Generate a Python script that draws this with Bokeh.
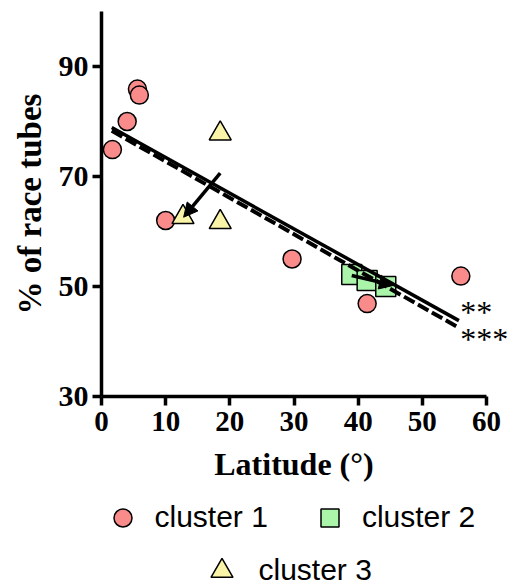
from bokeh.plotting import figure
from bokeh.layouts import column
from bokeh.models import (Range1d, FixedTicker, Arrow, NormalHead, Legend,
                          LegendItem, ColumnDataSource)
from bokeh.core.properties import value
from bokeh.embed import file_html
from bokeh.resources import INLINE

# Latitude (degrees) and share of race tubes (%) per population, by cluster
c1_lat = [1.7, 4.0, 5.6, 5.9, 10.0, 29.7, 41.4, 56.0]
c1_pct = [74.9, 80.0, 85.9, 84.8, 62.0, 55.0, 46.9, 51.9]

c2_lat = [39.0, 41.4, 44.3]
c2_pct = [52.2, 51.1, 50.0]

c3_lat = [12.7, 18.5, 18.5]
c3_pct = [62.6, 77.8, 61.7]

# Linear fits: all populations (solid) and corrected (dashed)
fit_lat = [1.6, 55.7]
fit_solid = [78.9, 43.8]
fit_dashed = [78.3, 42.5]

# Shift arrows
arrow_lat0 = [18.5, 39.0]
arrow_pct0 = [70.6, 52.0]
arrow_lat1 = [12.8, 45.5]
arrow_pct1 = [62.6, 50.2]

# Significance marks for the two fits
star_lat = [55.9, 55.9]
star_pct = [45.3, 40.4]
star_text = ["**", "***"]

x_ticks = [0, 10, 20, 30, 40, 50, 60]
y_ticks = [30, 50, 70, 90]

SERIF = "Liberation Serif"
SANS = "Liberation Sans"
C1, C2, C3 = "#F98B8B", "#ABF5AB", "#FAF4A8"

# x range runs a little past 60 so the significance marks stay inside the
# frame; the axis itself stops at 60
p = figure(width=510, height=496, output_backend="svg", toolbar_location=None,
           x_range=Range1d(0, 63.74), y_range=Range1d(30, 100),
           min_border_left=101, min_border_right=0,
           min_border_top=11, min_border_bottom=100)
p.outline_line_color = None
p.xgrid.visible = False
p.ygrid.visible = False
p.background_fill_color = "white"
p.border_fill_color = "white"

for ax in (p.xaxis[0], p.yaxis[0]):
    ax.axis_line_width = 3.5
    ax.major_tick_line_width = 3.5
    ax.major_tick_out = 9
    ax.major_tick_in = 0
    ax.minor_tick_line_color = None
    ax.major_label_text_font = SERIF
    ax.major_label_text_font_style = "bold"
    ax.major_label_text_color = "black"
    ax.axis_label_text_font = SERIF
    ax.axis_label_text_font_style = "bold"
    ax.axis_label_text_color = "black"

p.xaxis.major_label_text_font_size = "29px"
p.yaxis.major_label_text_font_size = "30px"
p.xaxis.bounds = (0, 60)
p.xaxis.ticker = FixedTicker(ticks=x_ticks)
p.yaxis.ticker = FixedTicker(ticks=y_ticks)
# trailing no-break spaces keep the title centred under the 0-60 axis line
p.xaxis.axis_label = "Latitude (°)\u00a0\u00a0\u00a0"
p.yaxis.axis_label = "% of race tubes"
p.xaxis.axis_label_text_font_size = "32px"
p.yaxis.axis_label_text_font_size = "33px"
p.xaxis.major_label_standoff = 6
p.yaxis.major_label_standoff = 4
p.xaxis.axis_label_standoff = 12
p.yaxis.axis_label_standoff = 8

r1 = p.scatter(c1_lat, c1_pct, marker="circle", size=18, fill_color=C1,
               line_color="black", line_width=1.5)
r2 = p.scatter(c2_lat, c2_pct, marker="square", size=20, fill_color=C2,
               line_color="black", line_width=1.5)
r3 = p.scatter(c3_lat, c3_pct, marker="triangle", size=22, fill_color=C3,
               line_color="black", line_width=1.5)

p.line(fit_lat, fit_solid, line_width=3.5, line_color="black")
p.line(fit_lat, fit_dashed, line_width=4, line_color="black", line_dash="12 4")

arrows = ColumnDataSource(dict(x0=arrow_lat0, y0=arrow_pct0,
                               x1=arrow_lat1, y1=arrow_pct1))
p.add_layout(Arrow(source=arrows, x_start="x0", y_start="y0", x_end="x1", y_end="y1",
                   line_width=3.5, line_color="black",
                   end=NormalHead(size=14, fill_color="black", line_color="black")))

p.text(star_lat, star_pct, text=star_text, text_font=value(SERIF),
       text_font_size="32px", text_baseline="middle", text_align="left",
       text_color="black")

# Key panel underneath the chart (its frame lines up with the chart's frame)
key = figure(width=510, height=90, output_backend="svg", toolbar_location=None,
             x_range=Range1d(0, 1), y_range=Range1d(0, 1),
             x_axis_type=None, y_axis_type=None, min_border=0)
key.outline_line_color = None
key.background_fill_color = "white"
key.border_fill_color = "white"
nan = [float("nan")]
k1 = key.scatter(x=nan, y=nan, marker="circle", fill_color=C1,
                 line_color="black", line_width=1.5)
k2 = key.scatter(x=nan, y=nan, marker="square", fill_color=C2,
                 line_color="black", line_width=1.5)
k3 = key.scatter(x=nan, y=nan, marker="triangle", fill_color=C3,
                 line_color="black", line_width=1.5)

common = dict(orientation="horizontal",
              label_text_font=SANS, label_text_font_size="30px",
              label_text_color="black", border_line_color=None,
              background_fill_alpha=0, padding=0, margin=0)
leg1 = Legend(items=[LegendItem(label="cluster 1", renderers=[k1]),
                     LegendItem(label="cluster 2", renderers=[k2])],
              location=(-1.5, 46.5), glyph_width=45, glyph_height=45,
              label_standoff=10, spacing=39, **common)
leg2 = Legend(items=[LegendItem(label="cluster 3", renderers=[k3])],
              location=(92.5, -11.5), glyph_width=55, glyph_height=55,
              label_standoff=10, **common)
key.add_layout(leg1)
key.add_layout(leg2)

open("out.html", "w").write(file_html(column(p, key, spacing=0), INLINE))
